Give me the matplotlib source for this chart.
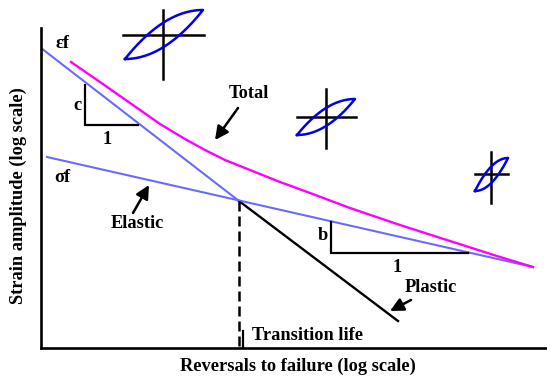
import matplotlib.pyplot as plt
import numpy as np

plt.rcParams['font.family'] = ['Liberation Serif', 'DejaVu Serif']

# schematic coordinates (pixel-like units, y grows downward)
plastic_x = [41, 239, 398]
plastic_y = [48, 201, 321]
elastic_x = [47, 533]
elastic_y = [157, 267]
total_x = [71, 100, 130, 160, 185, 205, 225, 250, 280, 310, 350, 400, 450, 500, 533]
total_y = [62, 82, 103, 124, 139, 150, 160, 170, 182, 193, 208, 225, 241, 257, 267]
transition_x = 239

# slope triangles: (vertical x, top y, bottom y, right x)
tri_c = (85, 85, 125, 138)
tri_b = (331, 222, 253, 468)

# hysteresis loop glyphs: cross centre/extent and loop corners
loops = [
    dict(cx=163, cy=35, x0=123, x1=204, y0=10, y1=79, lx=(125, 203), ly=(59, 10)),
    dict(cx=326, cy=117, x0=297, x1=356, y0=89, y1=148, lx=(297, 355), ly=(135, 99)),
    dict(cx=491, cy=174, x0=475, x1=508, y0=152, y1=203, lx=(475, 508), ly=(191, 158)),
]

LB = '#6a6aff'
W, H = 547, 379

fig = plt.figure(figsize=(W / 100, H / 100), dpi=100)
ax = fig.add_axes([41 / W, 1 - 347.7 / H, 1 - 41 / W, (347.7 - 28) / H])
ax.set_xlim(41, 547)
ax.set_ylim(347.7, 28)
ax.set_xticks([])
ax.set_yticks([])
for s in ['top', 'right']:
    ax.spines[s].set_visible(False)
for s in ['left', 'bottom']:
    ax.spines[s].set_linewidth(1.9)

ax.plot(plastic_x[:2], plastic_y[:2], color=LB, lw=1.5)
ax.plot(plastic_x[1:], plastic_y[1:], color='k', lw=1.7)
ax.plot(elastic_x, elastic_y, color=LB, lw=1.5)
ax.plot(total_x, total_y, color='#ff00ff', lw=1.7)

ax.plot([transition_x, transition_x], [plastic_y[1], 347.7], color='k', lw=1.8,
        linestyle=(0, (4, 2)))
ax.plot([transition_x + 4.5] * 2, [331, 347.7], color='k', lw=1.6)

for vx, ty, by, rx in [tri_c, tri_b]:
    ax.plot([vx, vx, rx], [ty, by, by], color='k', lw=1.6, solid_joinstyle='miter')

# loops
u = np.linspace(0, 1, 60)
for lp in loops:
    ax.plot([lp['cx']] * 2, [lp['y0'], lp['y1']], color='k', lw=1.8, clip_on=False)
    ax.plot([lp['x0'], lp['x1']], [lp['cy']] * 2, color='k', lw=1.8, clip_on=False)
    xa, xb = lp['lx']
    ya, yb = lp['ly']
    xs = xa + (xb - xa) * u
    low = ya + (yb - ya) * u ** 2
    up = ya + (yb - ya) * (1 - (1 - u) ** 2)
    ax.plot(np.r_[xs, xs[::-1]], np.r_[low, up[::-1]], color='#0000ee', lw=1.8,
            clip_on=False)

fs = 13.2
txt = dict(fontsize=fs, ha='center', va='center', color='k', fontweight='bold')
ax.text(63, 44, 'εf', **txt)
ax.text(62, 178, 'σf', **txt)
ax.text(77, 106, 'c', **txt)
ax.text(107, 140, '1', **txt)
ax.text(323, 235, 'b', **txt)
ax.text(397, 267, '1', **txt)
ax.text(249, 93, 'Total', **txt)
ax.text(137, 224, 'Elastic', **txt)
ax.text(431, 288, 'Plastic', **txt)
ax.text(252, 335, 'Transition life', fontsize=fs, ha='left', va='center',
        fontweight='bold')
ax.text(298, 366, 'Reversals to failure (log scale)', **txt)
ax.text(18, 196, 'Strain amplitude (log scale)', rotation=90, **txt)

ap = dict(arrowstyle='-|>', color='k', lw=1.8, mutation_scale=20, shrinkA=0, shrinkB=0)
ax.annotate('', xy=(215, 140), xytext=(238, 108), arrowprops=ap)
ax.annotate('', xy=(149, 185), xytext=(133, 213), arrowprops=ap)
ax.annotate('', xy=(390, 311), xytext=(411, 300), arrowprops=ap)

fig.savefig('out.png', dpi=100)
